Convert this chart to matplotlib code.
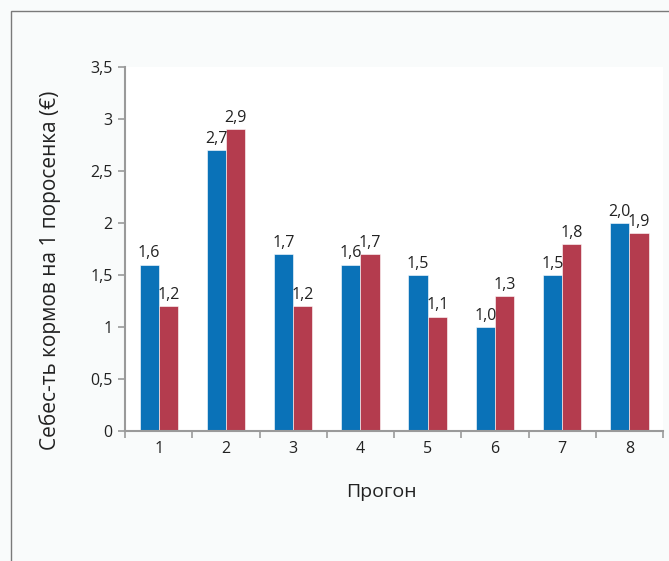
import matplotlib.pyplot as plt
import matplotlib.patches as patches
import numpy as np

plt.rcParams['font.family'] = ['Open Sans', 'DejaVu Sans']

runs = ['1', '2', '3', '4', '5', '6', '7', '8']
series_blue = [1.6, 2.7, 1.7, 1.6, 1.5, 1.0, 1.5, 2.0]
series_red = [1.2, 2.9, 1.2, 1.7, 1.1, 1.3, 1.8, 1.9]
y_ticks = [0, 0.5, 1, 1.5, 2, 2.5, 3, 3.5]
y_tick_labels = ['0', '0,5', '1', '1,5', '2', '2,5', '3', '3,5']

blue = '#0a72b8'
red = '#b43c4e'
axis_grey = '#9a9a9a'
txt = '#222222'

fig = plt.figure(figsize=(6.69, 5.61), dpi=100, facecolor='#f9fbfb')
# рамка вокруг графика
fig.patches.append(patches.Rectangle((11 / 669, -0.1), 1.0, 1 - 11 / 561 + 0.1,
                                     transform=fig.transFigure, fill=False,
                                     edgecolor='#7a7a7a', linewidth=1.0))

ax = fig.add_axes([0.187, 0.2317, 0.804, 0.6489])
ax.set_facecolor('white')

x = np.arange(len(runs))
w = 0.285
b1 = ax.bar(x - w / 2, series_blue, w, color=blue, edgecolor='white', linewidth=0.4)
b2 = ax.bar(x + w / 2, series_red, w, color=red, edgecolor='white', linewidth=0.4)

for bars, vals in ((b1, series_blue), (b2, series_red)):
    for bar, v in zip(bars, vals):
        ax.text(bar.get_x() + bar.get_width() / 2, v + 0.03,
                f'{v:.1f}'.replace('.', ','), ha='center', va='bottom',
                fontsize=11.5, color=txt)

ax.set_xlim(-0.5, len(runs) - 0.5)
ax.set_ylim(0, 3.5)
ax.set_yticks(y_ticks)
ax.set_yticklabels(y_tick_labels, fontsize=11.5, color=txt)
ax.set_xticks(np.arange(len(runs) + 1) - 0.5)
ax.set_xticklabels([])
ax.set_xticks(x, minor=True)
ax.set_xticklabels(runs, minor=True, fontsize=11.5, color=txt)
ax.tick_params(axis='x', which='minor', length=0, pad=7)
ax.tick_params(axis='x', which='major', length=5, color=axis_grey, width=1.2)
ax.tick_params(axis='y', length=5, color=axis_grey, width=1.2, pad=4)

for s in ('top', 'right'):
    ax.spines[s].set_visible(False)
for s in ('left', 'bottom'):
    ax.spines[s].set_color(axis_grey)
    ax.spines[s].set_linewidth(1.5)

fig.text(381 / 669, 1 - 492 / 561, 'Прогон', fontsize=14, color=txt,
         ha='center', va='center')
fig.text(50 / 669, 1 - 270 / 561, 'Себес-ть кормов на 1 поросенка (€)',
         fontsize=15, color=txt, ha='center', va='center', rotation=90)

fig.savefig('out.png', dpi=100, facecolor=fig.get_facecolor())
